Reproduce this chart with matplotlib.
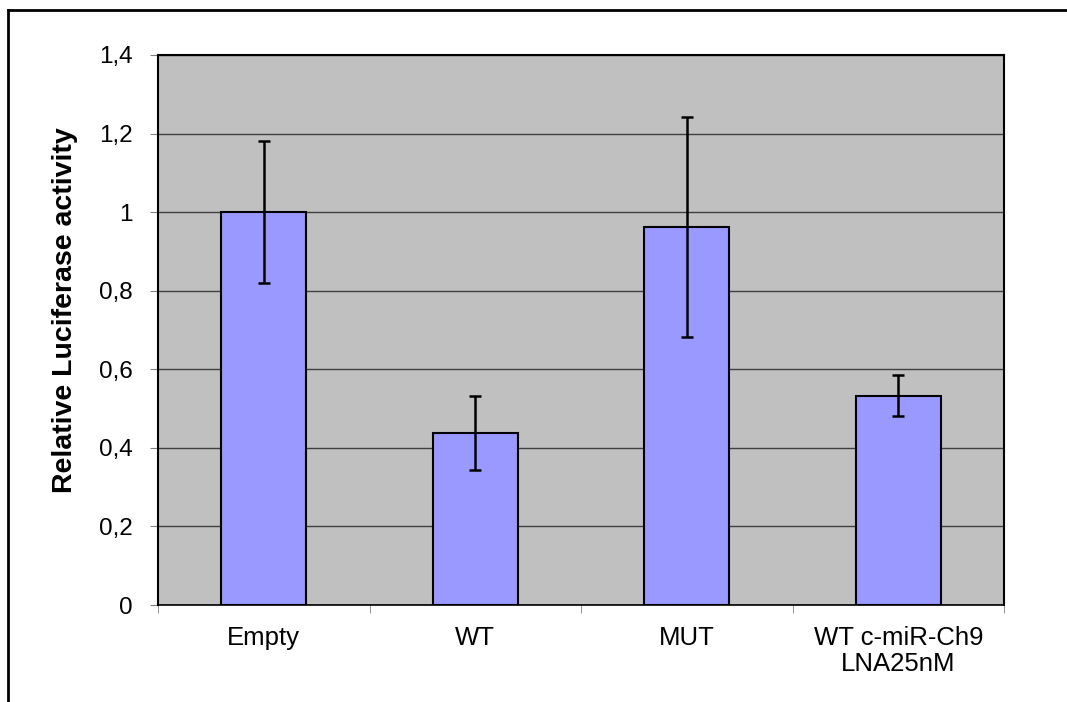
import matplotlib
matplotlib.use("Agg")
import matplotlib.pyplot as plt
from matplotlib.ticker import FuncFormatter
from matplotlib.lines import Line2D

categories = ["Empty", "WT", "MUT", "WT c-miR-Ch9\nLNA25nM"]
values = [1.0, 0.438, 0.963, 0.533]
errors = [0.18, 0.094, 0.28, 0.053]
y_ticks = [0, 0.2, 0.4, 0.6, 0.8, 1.0, 1.2, 1.4]

plt.rcParams["font.family"] = ["Liberation Sans", "DejaVu Sans"]

fig = plt.figure(figsize=(10.67, 7.02), dpi=100)
ax = fig.add_axes([158 / 1067, 97 / 702, 846 / 1067, 550 / 702])
ax.set_facecolor("#C0C0C0")

x = list(range(len(categories)))
ax.bar(x, values, width=0.4, color="#9999FF", edgecolor="black", linewidth=1.5, zorder=3)
ax.errorbar(x, values, yerr=errors, fmt="none", ecolor="black", elinewidth=1.8,
            capsize=4.5, capthick=1.8, zorder=4)

ax.set_xlim(-0.5, len(categories) - 0.5)
ax.set_ylim(0, 1.4)
ax.set_yticks(y_ticks)
ax.yaxis.set_major_formatter(FuncFormatter(lambda v, p: ("%g" % v).replace(".", ",")))
ax.yaxis.grid(True, color="#404040", linewidth=1.0, zorder=1)
ax.set_axisbelow(True)

ax.set_xticks(x)
ax.set_xticklabels(categories, fontsize=18.5, linespacing=1.1)
ax.set_xticks([i - 0.5 for i in range(len(categories) + 1)], minor=True)
ax.tick_params(axis="x", which="major", length=0, pad=15)
ax.tick_params(axis="x", which="minor", length=6, color="#808080", direction="out")
ax.tick_params(axis="y", length=6, color="#808080", direction="out", labelsize=17.5, pad=12)

for s in ax.spines.values():
    s.set_linewidth(1.5)
    s.set_color("black")
ax.spines["bottom"].set_linewidth(1.2)

fig.text(65 / 1067, 1 - 310 / 702, "Relative Luciferase activity", rotation=90,
         ha="center", va="center", fontsize=20.5, fontweight="bold")

# outer frame (top and left edges)
fig.add_artist(Line2D([8 / 1067, 8 / 1067], [0, 1 - 10 / 702], transform=fig.transFigure,
                      color="black", linewidth=2))
fig.add_artist(Line2D([8 / 1067, 1], [1 - 10 / 702, 1 - 10 / 702], transform=fig.transFigure,
                      color="black", linewidth=2))

fig.savefig("out.png", dpi=100, facecolor="white")
